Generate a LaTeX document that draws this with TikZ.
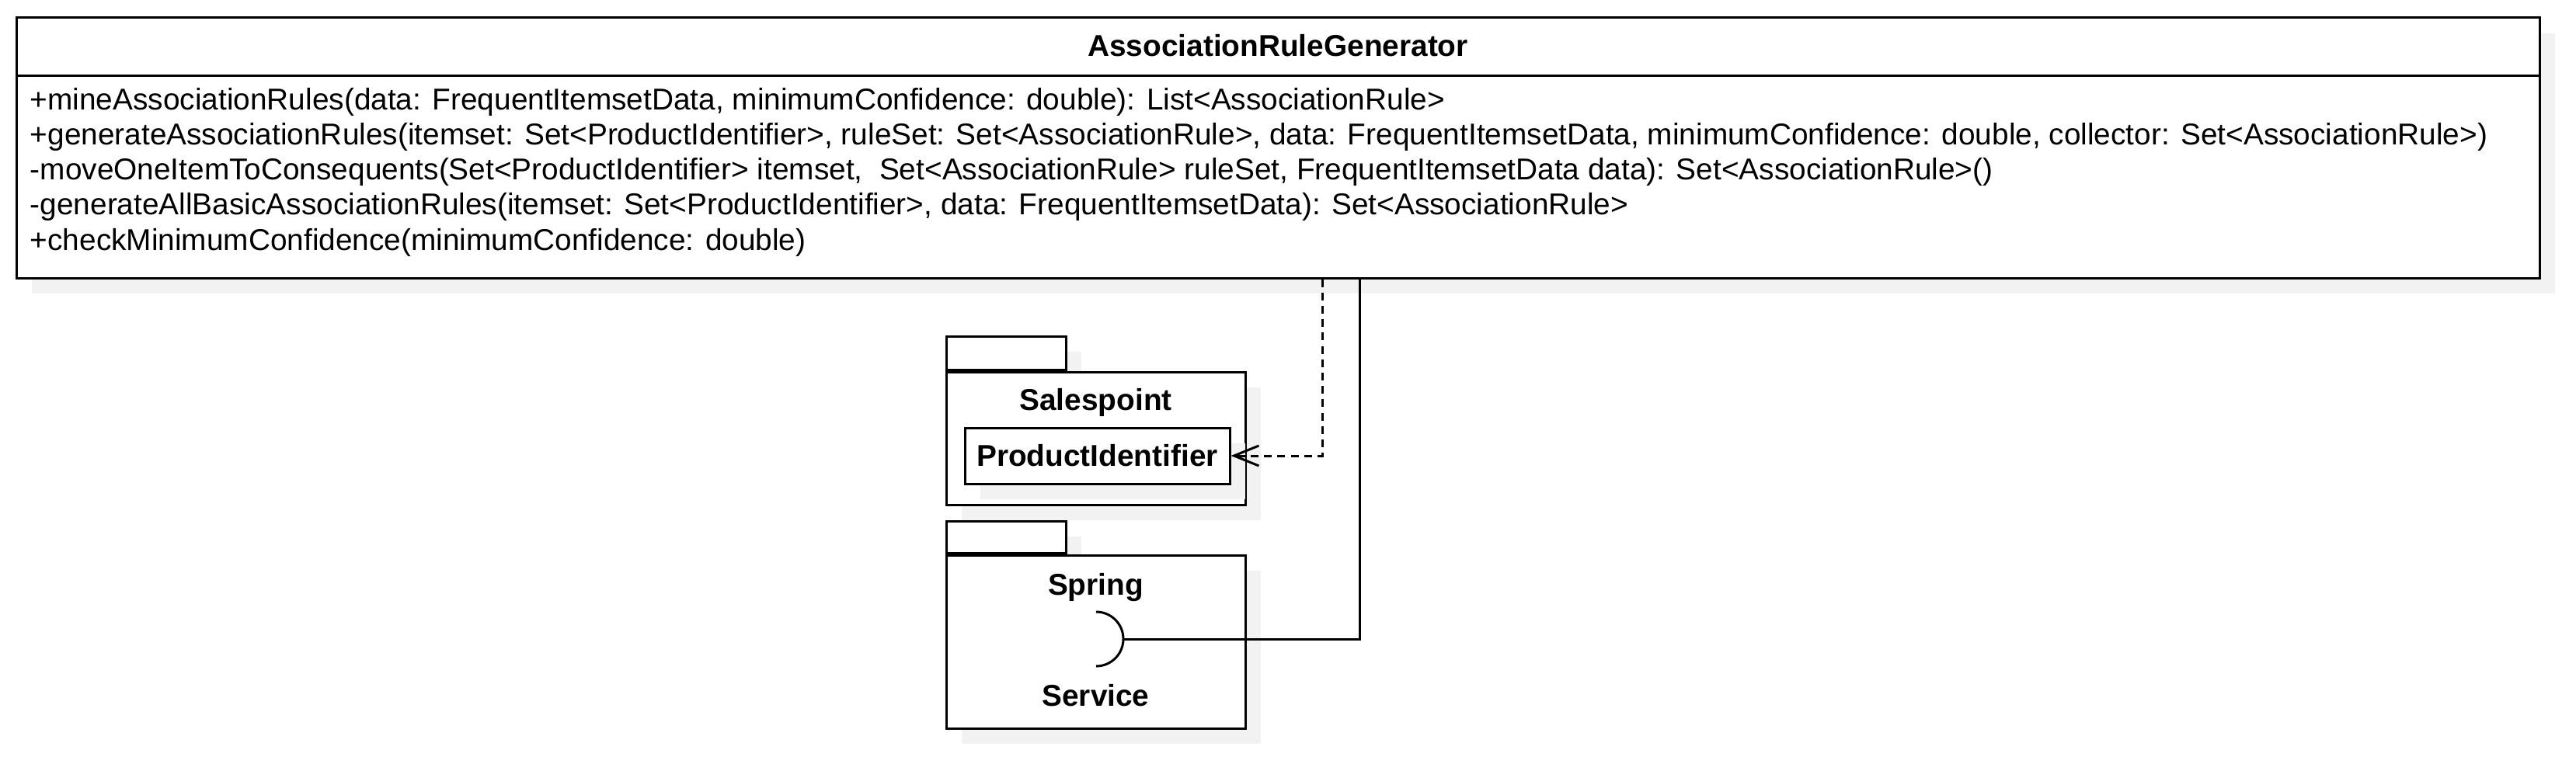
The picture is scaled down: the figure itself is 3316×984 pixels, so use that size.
\documentclass[tikz,border=0pt]{standalone}
\usepackage{fontspec}
\setmainfont{Liberation Sans}
\usetikzlibrary{arrows.meta,calc,positioning,shadows}

\begin{document}
\begin{tikzpicture}[
            x=0.25pt, y=-0.25pt,
            every node/.style={font=\fontsize{9.7pt}{11.6pt}\selectfont},
            box/.style={draw, line width=0.75pt, fill=white, inner sep=0pt,
              drop shadow={shadow xshift=5pt, shadow yshift=-5pt, fill=black!5, opacity=1}},
            nametext/.style={font=\fontsize{9.7pt}{11.6pt}\selectfont\bfseries, anchor=base, inner sep=0pt},
            method/.style={anchor=base west, inner sep=0pt},
            dep/.style={line width=0.75pt, dash pattern=on 2.5pt off 1.8pt, -{Straight Barb[length=8pt,width=6.5pt]}},
            usage/.style={line width=0.75pt}
            ]
            \useasboundingbox (0,0) rectangle (3316,984);

            % class
            \node[box, minimum width=812pt, minimum height=83.75pt] (cls) at (1645,190.5) {};
            \coordinate (hdr) at (0,98);
            \draw[usage] (cls.west |- hdr) -- (cls.east |- hdr);
            \node[nametext] (clsname) at (1645,73) {AssociationRuleGenerator};
            \foreach \txt [count=\i] in {
                {+mineAssociationRules(data: FrequentItemsetData, minimumConfidence: double): List<AssociationRule>},
                {+generateAssociationRules(itemset: Set<ProductIdentifier>, ruleSet: Set<AssociationRule>, data: FrequentItemsetData, minimumConfidence: double, collector: Set<AssociationRule>)},
                {-moveOneItemToConsequents(Set<ProductIdentifier> itemset, \ Set<AssociationRule> ruleSet, FrequentItemsetData data): Set<AssociationRule>()},
                {-generateAllBasicAssociationRules(itemset: Set<ProductIdentifier>, data: FrequentItemsetData): Set<AssociationRule>},
                {+checkMinimumConfidence(minimumConfidence: double)}}
                \node[method] (m\i) at (38,{97+45*\i}) {\txt};

            % packages
            \node[box, minimum width=38.5pt, minimum height=10.75pt] (sptab) at (1295,454.5) {};
            \node[box, minimum width=96.25pt, minimum height=42.75pt, anchor=north west] (spbody) at (sptab.south west) {};
            \node[nametext] (spname) at (1410.5,528) {Salespoint};
            \node[box, nametext, minimum width=85.25pt, minimum height=18pt, anchor=center] (pid) at (1412.5,587) {ProductIdentifier};

            \node[box, minimum width=38.5pt, minimum height=10.25pt] (sgtab) at (1295,691.5) {};
            \node[box, minimum width=96.25pt, minimum height=55.75pt, anchor=north west] (sgbody) at (sgtab.south west) {};
            \node[nametext] (sgname) at (1410.5,766) {Spring};
            \node[nametext] (svname) at (1410.5,909) {Service};
            \coordinate (sock) at (1446,823);
            \draw[usage] (sock) arc[start angle=0, end angle=90, radius=35]
                         (sock) arc[start angle=0, end angle=-90, radius=35];

            % connectors
            \draw[dep] ($(cls.south)+(57,0)$) |- (pid.east);
            \draw[usage] ($(cls.south)+(105,0)$) |- (sock);
        \end{tikzpicture}
\end{document}
